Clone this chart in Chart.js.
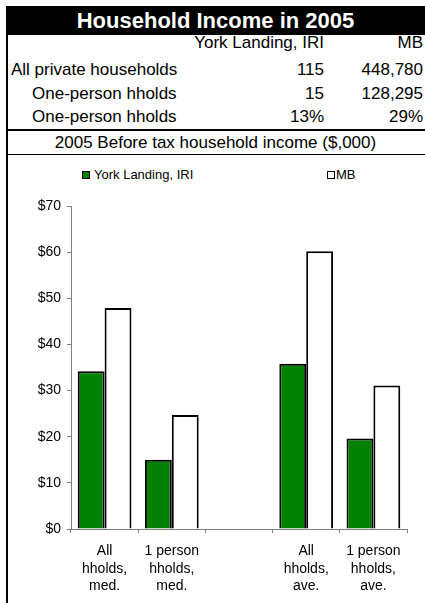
<!DOCTYPE html>
<html>
<head>
<meta charset="utf-8">
<script src="https://cdn.jsdelivr.net/npm/chart.js@4"></script>
<style>
  html, body { margin: 0; padding: 0; background: #fff; }
  body { width: 425px; height: 603px; position: relative; overflow: hidden; font-family: "Liberation Sans", Arial, sans-serif; color: #000; }
  .abs { position: absolute; }
  #title { left: 6px; top: 6px; width: 419px; height: 29px; background: #000; color: #fff; font-weight: bold; font-size: 22px; line-height: 29px; text-align: center; }
  #vline { left: 6px; top: 6px; width: 2px; height: 597px; background: #000; z-index: 5; }
  .hline { left: 6px; width: 419px; background: #000; z-index: 5; }
  .row { font-size: 17px; line-height: 20px; white-space: nowrap; }
  .lbl { left: 11px; }
  .v1 { right: 101px; text-align: right; }
  .v2 { right: 2px; text-align: right; }
  #sub { left: 6px; width: 419px; top: 133px; text-align: center; font-size: 17px; line-height: 20px; }
  #chartWrap { left: 0; top: 190px; width: 425px; height: 413px; }
  .leg { font-size: 13px; line-height: 15px; white-space: nowrap; top: 167px; }
  .sw { display: inline-block; width: 6px; height: 6px; border: 1px solid #000; margin-right: 4px; vertical-align: 0px; }
</style>
</head>
<body>
<div id="vline" class="abs"></div>
<div id="title" class="abs">Household Income in 2005</div>
<div id="table"></div>
<div class="abs hline" style="top:129px;height:2px;"></div>
<div id="sub" class="abs">2005 Before tax household income ($,000)</div>
<div class="abs hline" style="top:154px;height:1px;"></div>
<div id="legend"></div>
<div id="chartWrap" class="abs"><canvas id="c" width="425" height="413"></canvas></div>
<script>
// ---- data ----
const title = "Household Income in 2005";
const tableHeader = ["", "York Landing, IRI", "MB"];
const tableRowLabels = ["All private households", "One-person hholds", "One-person hholds"];
const tableYork = ["115", "15", "13%"];
const tableMB = ["448,780", "128,295", "29%"];
const categories = [
  ["All", "hholds,", "med."],
  ["1 person", "hholds,", "med."],
  "",
  ["All", "hholds,", "ave."],
  ["1 person", "hholds,", "ave."]
];
const seriesNames = ["York Landing, IRI", "MB"];
const yorkValues = [34.2, 15.0, null, 35.8, 19.6];
const mbValues = [47.9, 24.7, null, 60.2, 31.1];
const yTicks = [0, 10, 20, 30, 40, 50, 60, 70];
const seriesColors = ["#008000", "#ffffff"];

// ---- table ----
const tbl = document.getElementById('table');
const rowTops = [33, 60, 84, 107];
function addDiv(cls, text, top, extraStyle) {
  const d = document.createElement('div');
  d.className = 'abs row ' + cls;
  d.textContent = text;
  d.style.top = top + 'px';
  if (extraStyle) d.style.cssText += extraStyle;
  tbl.appendChild(d);
}
addDiv('v1', tableHeader[1], rowTops[0]);
addDiv('v2', tableHeader[2], rowTops[0]);
tableRowLabels.forEach((l, i) => {
  addDiv('lbl', l, rowTops[i + 1], i > 0 ? 'left:32px;' : '');
  addDiv('v1', tableYork[i], rowTops[i + 1]);
  addDiv('v2', tableMB[i], rowTops[i + 1]);
});

// ---- legend (HTML) ----
const legPos = [82, 327];
const lg = document.getElementById('legend');
seriesNames.forEach((n, i) => {
  const d = document.createElement('div');
  d.className = 'abs leg';
  d.style.left = legPos[i] + 'px';
  d.innerHTML = '<span class="sw" style="background:' + seriesColors[i] + (i === 1 ? ';margin-right:1px' : '') + '"></span>';
  d.appendChild(document.createTextNode(n));
  lg.appendChild(d);
});

// ---- chart ----
new Chart(document.getElementById('c'), {
  type: 'bar',
  data: {
    labels: categories,
    datasets: [
      { label: seriesNames[0], data: yorkValues, backgroundColor: seriesColors[0], borderColor: '#000', borderWidth: 2, borderSkipped: 'bottom' },
      { label: seriesNames[1], data: mbValues, backgroundColor: seriesColors[1], borderColor: '#000', borderWidth: 2, borderSkipped: 'bottom' }
    ]
  },
  options: {
    responsive: false,
    animation: false,
    devicePixelRatio: 1,
    layout: { padding: { top: 16, right: 18, left: 0, bottom: 0 } },
    datasets: { bar: { barPercentage: 1.0, categoryPercentage: 0.8 } },
    plugins: { legend: { display: false }, tooltip: { enabled: false }, title: { display: false } },
    scales: {
      x: {
        grid: { display: true, drawOnChartArea: false, drawTicks: true, tickLength: 4, color: '#808080', offset: true },
        border: { display: true, color: '#808080', width: 1 },
        ticks: { color: '#000', font: { family: 'Liberation Sans', size: 14, lineHeight: 1.27 }, padding: 9, maxRotation: 0, autoSkip: false },
        afterFit: (s) => { s.height = 74; }
      },
      y: {
        min: 0, max: 70,
        afterBuildTicks: (s) => { s.ticks = yTicks.map(v => ({ value: v })); },
        grid: { display: true, drawOnChartArea: false, drawTicks: true, tickLength: 4, color: '#808080' },
        border: { display: true, color: '#808080', width: 1 },
        ticks: { color: '#000', font: { family: 'Liberation Sans', size: 14 }, padding: 6, callback: (v) => '$' + v },
        afterFit: (s) => { s.width = 71; }
      }
    }
  }
});
</script>
</body>
</html>
